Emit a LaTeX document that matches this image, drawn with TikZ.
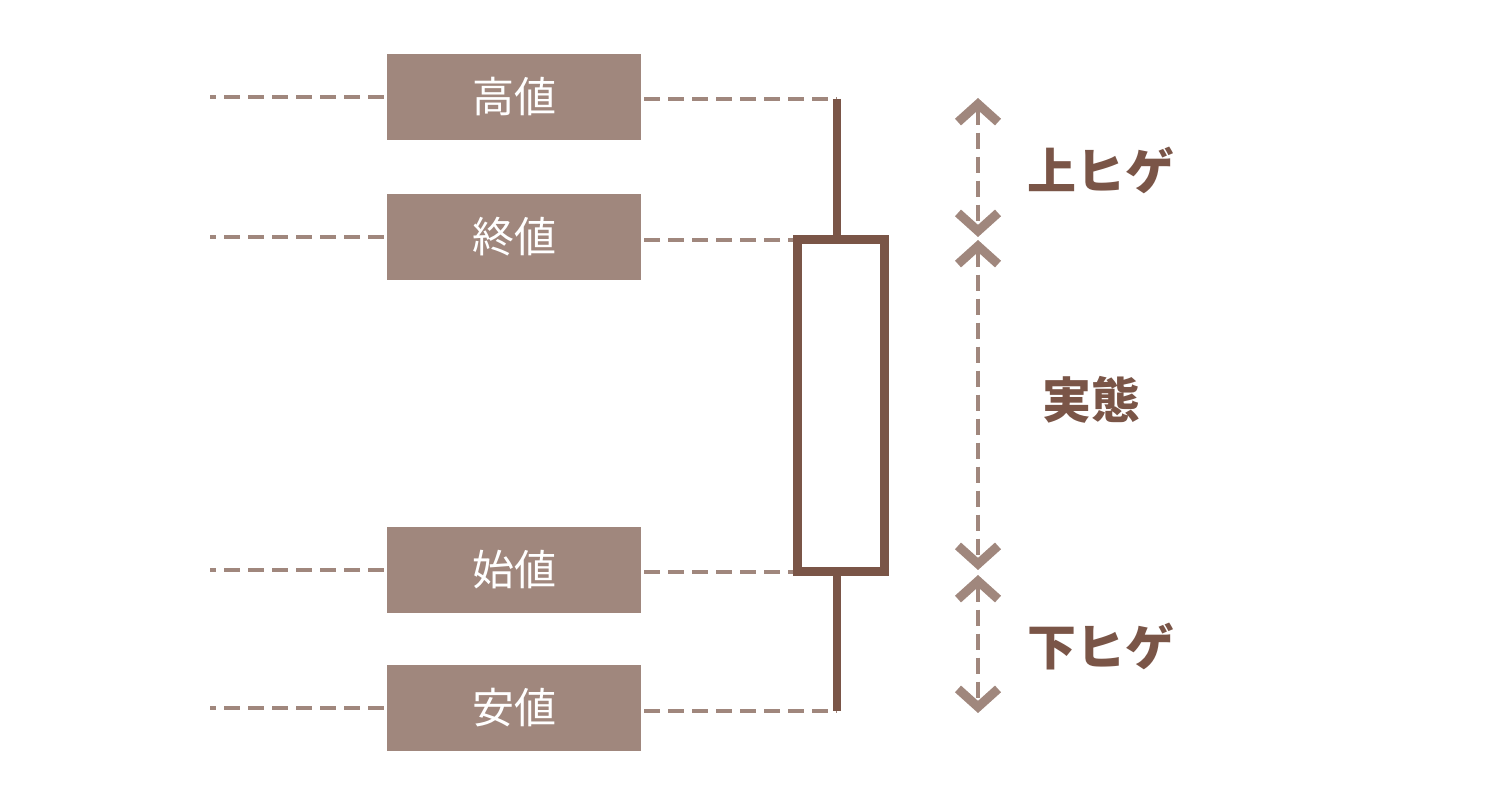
\documentclass[tikz,border=0pt]{standalone}
\usepackage{fontspec}
\setmainfont{Noto Sans CJK JP}
\usetikzlibrary{arrows.meta}
\definecolor{pricebg}{HTML}{A0877D}
\definecolor{candle}{HTML}{7A5547}
\begin{document}
\begin{tikzpicture}[x=0.5pt, y=-0.5pt,
    price/.style={fill=pricebg, text=white, minimum width=127pt, minimum height=43pt, inner sep=0pt, font=\fontsize{21pt}{21pt}\selectfont},
    guide/.style={draw=pricebg, line width=2pt, dash pattern=on 8pt off 4pt, dash phase=10.5pt},
    span/.style={draw=pricebg, line width=2pt, dash pattern=on 8pt off 4pt, {Straight Barb[length=9pt, width=20pt, line width=4.5pt]}-{Straight Barb[length=9pt, width=20pt, line width=4.5pt]}},
    part/.style={text=candle, font=\bfseries\fontsize{24.5pt}{24.5pt}\selectfont}]
    \useasboundingbox (0,0) rectangle (1500,785);

    \node[price] at (514, 97) (takane) {高値};
    \node[price] at (514, 237) (owarine) {終値};
    \node[price] at (514, 570) (hajimene) {始値};
    \node[price] at (514, 708) (yasune) {安値};

    \coordinate (hi) at (837, 99);
    \coordinate (bodytop) at (797, 240);
    \coordinate (bodybot) at (797, 572);
    \coordinate (lo) at (837, 711);

    % guides on the left
    \foreach \n in {takane, owarine, hajimene, yasune}
      \draw[guide] (\n.west) -- ++(-177, 0);

    % guides to the candle
    \draw[guide] (takane.east |- hi) -- (hi);
    \draw[guide] (owarine.east |- bodytop) -- (bodytop);
    \draw[guide] (hajimene.east |- bodybot) -- (bodybot);
    \draw[guide] (yasune.east |- lo) -- (lo);

    % candle
    \draw[candle, line width=4.3pt] (hi) -- (837, 240);
    \draw[candle, line width=4.3pt] (837, 572) -- (lo);
    \draw[candle, line width=4.5pt, fill=white] (bodytop) rectangle (884, 572);

    % spans
    \coordinate (u1) at (978, 98);
    \coordinate (u2) at (978, 237);
    \coordinate (m1) at (978, 240);
    \coordinate (m2) at (978, 570);
    \coordinate (d1) at (978, 575);
    \coordinate (d2) at (978, 713);
    \draw[span] (u1) -- (u2);
    \draw[span] (m1) -- (m2);
    \draw[span] (d1) -- (d2);

    \node[part] at (1101, 170) (upper) {上ヒゲ};
    \node[part] at (1091, 400) (body) {実態};
    \node[part] at (1101, 647) (lower) {下ヒゲ};
  \end{tikzpicture}
\end{document}
